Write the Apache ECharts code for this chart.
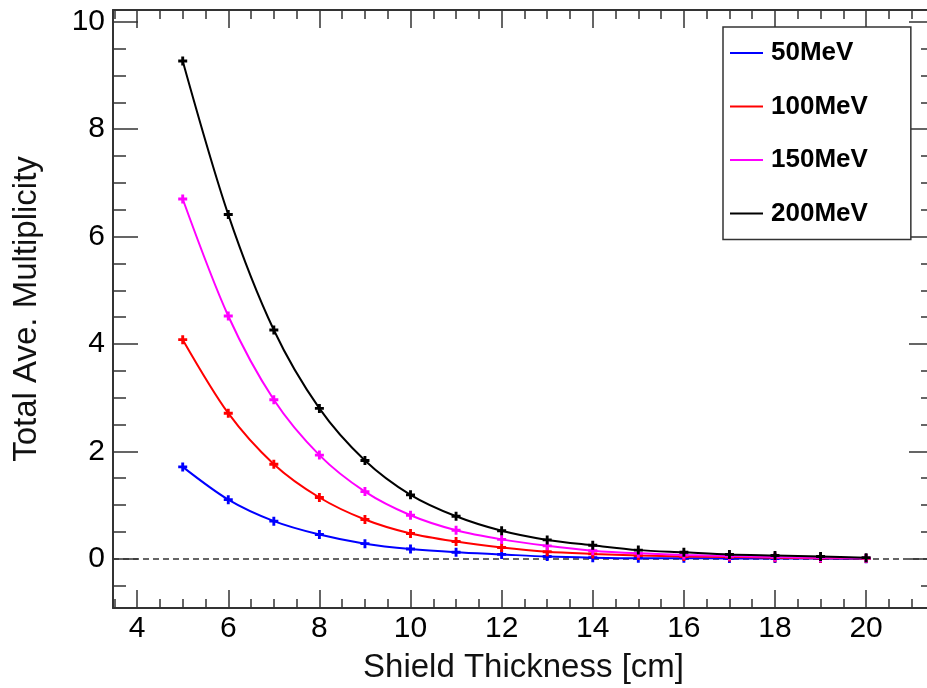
<!DOCTYPE html>
<html>
<head>
<meta charset="utf-8">
<script src="https://cdn.jsdelivr.net/npm/echarts@6/dist/echarts.min.js"></script>
<style>
html,body{margin:0;padding:0;background:#fff;}
#chart{width:927px;height:688px;}
</style>
</head>
<body>
<div id="chart"></div>
<script>
// ---- data ----
const thickness = [5, 6, 7, 8, 9, 10, 11, 12, 13, 14, 15, 16, 17, 18, 19, 20];
const mult50  = [1.71, 1.10, 0.70, 0.45, 0.28, 0.18, 0.12, 0.08, 0.04, 0.02, 0.01, 0.01, 0.005, 0.003, 0.002, 0.001];
const mult100 = [4.08, 2.71, 1.76, 1.14, 0.73, 0.47, 0.32, 0.21, 0.13, 0.09, 0.06, 0.04, 0.03, 0.02, 0.01, 0.005];
const mult150 = [6.70, 4.52, 2.96, 1.93, 1.25, 0.81, 0.53, 0.36, 0.24, 0.15, 0.10, 0.07, 0.05, 0.03, 0.02, 0.01];
const mult200 = [9.27, 6.41, 4.26, 2.80, 1.83, 1.19, 0.79, 0.52, 0.35, 0.25, 0.16, 0.12, 0.08, 0.06, 0.04, 0.02];
const seriesNames = ['50MeV', '100MeV', '150MeV', '200MeV'];

const xMajorTicks = [4, 6, 8, 10, 12, 14, 16, 18, 20];
const xMinorTicks = [3.5, 4.5, 5, 5.5, 6.5, 7, 7.5, 8.5, 9, 9.5, 10.5, 11, 11.5, 12.5, 13, 13.5, 14.5, 15, 15.5, 16.5, 17, 17.5, 18.5, 19, 19.5, 20.5, 21];
const yMajorTicks = [0, 2, 4, 6, 8, 10];
const yMinorTicks = [-0.5, 0.5, 1, 1.5, 2.5, 3, 3.5, 4.5, 5, 5.5, 6.5, 7, 7.5, 8.5, 9, 9.5];

const X_MIN = 3.47, X_MAX = 21.49;
const Y_MIN = -0.918, Y_MAX = 10.22;

// ---- chart ----
const chart = echarts.init(document.getElementById('chart'), null, {renderer: 'canvas'});
const FONT = 'Liberation Sans, Arial, sans-serif';
const frameColor = '#333';

function xAx(pos, ticks, len, withLabel, withLine, extra) {
  return Object.assign({
    type: 'value', position: pos, min: X_MIN, max: X_MAX,
    axisLine: {show: withLine, onZero: false, lineStyle: {color: frameColor, width: 2}},
    axisTick: {show: true, inside: true, length: len, customValues: ticks, lineStyle: {color: frameColor, width: 1.5}},
    axisLabel: withLabel ? {show: true, customValues: ticks, margin: 6, color: '#000', fontSize: 30, fontFamily: FONT} : {show: false},
    splitLine: {show: false}
  }, extra || {});
}
function yAx(pos, ticks, len, withLabel, withLine, extra) {
  return Object.assign({
    type: 'value', position: pos, min: Y_MIN, max: Y_MAX,
    axisLine: {show: withLine, onZero: false, lineStyle: {color: frameColor, width: 2}},
    axisTick: {show: true, inside: true, length: len, customValues: ticks, lineStyle: {color: frameColor, width: 1.5}},
    axisLabel: withLabel ? {show: true, customValues: ticks, margin: 8, color: '#000', fontSize: 30, fontFamily: FONT} : {show: false},
    splitLine: {show: false}
  }, extra || {});
}

const colors = ['#0000ff', '#ff0000', '#ff00ff', '#000000'];
const dataSets = [mult50, mult100, mult150, mult200];
const plusPath = 'path://M-1.6,-5 L1.6,-5 L1.6,-1.6 L5,-1.6 L5,1.6 L1.6,1.6 L1.6,5 L-1.6,5 L-1.6,1.6 L-5,1.6 L-5,-1.6 L-1.6,-1.6 Z';

const series = dataSets.map((vals, i) => {
  const s = {
    name: seriesNames[i],
    type: 'line',
    smooth: 0.3,
    data: thickness.map((x, j) => [x, vals[j]]),
    symbol: plusPath,
    symbolSize: 9,
    showSymbol: true,
    lineStyle: {color: colors[i], width: 2},
    itemStyle: {color: colors[i]},
    emphasis: {disabled: true},
    z: 3 + i
  };
  if (i === 0) {
    s.markLine = {
      silent: true, symbol: 'none', label: {show: false},
      lineStyle: {color: '#333', type: [6, 4], width: 1.5},
      data: [{yAxis: 0}],
      z: 1
    };
  }
  return s;
});

chart.setOption({
  backgroundColor: '#fff',
  animation: false,
  grid: {left: 113, top: 10, width: 821, height: 598, containLabel: false, outerBoundsMode: 'none'},
  legend: {
    show: true,
    data: seriesNames,
    orient: 'vertical',
    left: 723, top: 27,
    padding: [11, 43, 11, 7],
    itemGap: 23.5,
    itemWidth: 33, itemHeight: 2,
    icon: 'rect',
    borderColor: '#333', borderWidth: 1.5,
    backgroundColor: '#fff',
    textStyle: {fontSize: 26, fontWeight: 'bold', color: '#000', fontFamily: FONT, lineHeight: 30, padding: [0, 0, 0, 3]},
    selectedMode: false
  },
  xAxis: [
    xAx('bottom', xMajorTicks, 18, true, true, {
      name: 'Shield Thickness [cm]', nameLocation: 'middle', nameGap: 43,
      nameTextStyle: {fontSize: 33, color: '#111', fontFamily: FONT}
    }),
    xAx('bottom', xMinorTicks, 9, false, false),
    xAx('top', xMajorTicks, 18, false, true),
    xAx('top', xMinorTicks, 9, false, false)
  ],
  yAxis: [
    yAx('left', yMajorTicks, 25, true, true, {
      name: 'Total Ave. Multiplicity', nameLocation: 'middle', nameGap: 70, nameRotate: 90,
      nameTextStyle: {fontSize: 33, color: '#111', fontFamily: FONT}
    }),
    yAx('left', yMinorTicks, 13, false, false),
    yAx('right', yMajorTicks, 25, false, true),
    yAx('right', yMinorTicks, 13, false, false)
  ],
  series: series
});
</script>
</body>
</html>
